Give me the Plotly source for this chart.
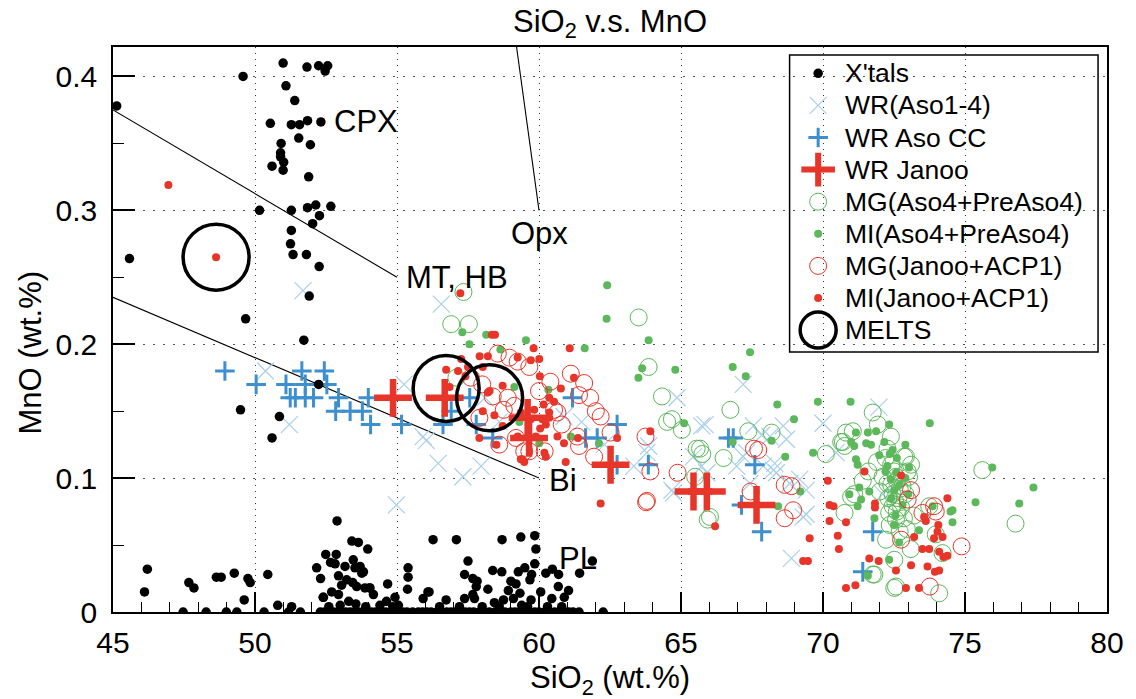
import plotly.graph_objects as go

# ---------------- data (SiO2 wt.%, MnO wt.%) ----------------
xtals_upper = [
    (45.13, 0.378), (45.58, 0.264), (49.58, 0.400), (50.99, 0.410), (51.83, 0.407),
    (52.24, 0.408), (52.56, 0.408), (52.47, 0.404), (51.09, 0.393), (51.40, 0.382),
    (50.54, 0.365), (51.28, 0.364), (51.57, 0.364), (51.85, 0.367), (52.32, 0.366),
    (51.54, 0.354), (50.92, 0.350), (51.95, 0.349), (50.90, 0.343), (50.90, 0.340),
    (51.01, 0.336), (50.60, 0.333), (50.99, 0.330), (51.89, 0.325), (50.16, 0.300),
    (51.28, 0.300), (51.85, 0.302), (52.14, 0.304), (52.67, 0.303), (52.27, 0.296),
    (52.03, 0.290), (51.28, 0.285), (51.25, 0.275), (51.34, 0.267), (51.81, 0.267),
    (52.26, 0.258), (51.91, 0.236), (49.67, 0.219), (51.72, 0.203), (52.24, 0.170),
    (49.49, 0.151), (50.86, 0.146), (50.60, 0.130),
]
xtals_lower = [
    (46.21, 0.032), (46.11, 0.015), (47.67, 0.022), (47.85, 0.018), (48.64, 0.026),
    (48.81, 0.026), (49.27, 0.029), (49.62, 0.009), (49.75, 0.025), (49.83, 0.022),
    (50.45, 0.028), (50.80, 0.005), (51.29, 0.004), (52.17, 0.033), (52.31, 0.025),
    (52.40, 0.011), (52.49, 0.043), (52.66, 0.037), (52.86, 0.043), (52.89, 0.068),
    (52.82, 0.036), (53.41, 0.053), (53.64, 0.052), (53.97, 0.047), (53.17, 0.034),
    (53.46, 0.039), (53.52, 0.033), (53.76, 0.029), (52.94, 0.027), (53.23, 0.024),
    (52.70, 0.015), (52.94, 0.013), (53.05, 0.020), (53.44, 0.022), (53.58, 0.019),
    (53.87, 0.018), (54.03, 0.018), (54.17, 0.013), (54.67, 0.021), (54.63, 0.008),
    (54.93, 0.011), (52.41, 0.011), (53.70, 0.034), (53.82, 0.030), (54.05, 0.018),
    (55.39, 0.033), (55.39, 0.026), (55.37, 0.017), (56.27, 0.054), (57.09, 0.054),
    (57.50, 0.038), (57.38, 0.028), (57.67, 0.025), (57.82, 0.023), (57.79, 0.019),
    (57.67, 0.013), (57.38, 0.010), (58.20, 0.017), (58.37, 0.031), (58.69, 0.030),
    (58.70, 0.054), (59.36, 0.056), (59.85, 0.057), (59.89, 0.047), (59.85, 0.036),
    (59.50, 0.033), (59.27, 0.030), (59.74, 0.028), (59.68, 0.024), (59.01, 0.023),
    (59.19, 0.021), (58.92, 0.016), (59.33, 0.014), (59.10, 0.010), (59.39, 0.005),
    (60.06, 0.015), (60.24, 0.029), (60.47, 0.032), (60.69, 0.028), (60.68, 0.019),
    (61.04, 0.016), (60.89, 0.011), (60.45, 0.010), (61.43, 0.029), (61.88, 0.038),
    (59.72, 0.009), (58.75, 0.009), (56.73, 0.009), (56.09, 0.015), (55.92, 0.010),
    (57.73, 0.010), (58.43, 0.007), (56.13, 0.015), (55.05, 0.005), (53.30, 0.008),
    (53.55, 0.006), (53.90, 0.004), (52.60, 0.004), (53.00, 0.005), (54.40, 0.005),
    (54.85, 0.004), (56.50, 0.004), (57.20, 0.004), (58.00, 0.004), (58.60, 0.004),
    (59.60, 0.004), (60.30, 0.004), (60.80, 0.004),
]
xtals_zero_sio2 = [
    47.47, 48.28, 48.99, 49.36, 50.32, 51.18, 51.60, 52.30, 52.45, 52.60, 52.75,
    52.90, 53.05, 53.20, 53.35, 53.50, 53.65, 53.80, 53.95, 54.10, 54.25, 54.45,
    54.60, 54.80, 55.00, 55.20, 55.35, 55.55, 55.75, 55.90, 56.05, 56.20, 56.40,
    56.55, 56.75, 56.90, 57.05, 57.20, 57.40, 57.55, 57.70, 57.90, 58.05, 58.25,
    58.45, 58.65, 58.80, 59.00, 59.15, 59.30, 59.50, 59.65, 59.85, 60.00, 60.20,
    60.35, 60.55, 60.70, 60.90, 61.05, 61.20, 61.41, 62.26,
]
xtals_zero_mno = [0.0] * len(xtals_zero_sio2)

wr_aso14 = [
    (51.69, 0.240), (50.37, 0.180), (51.21, 0.140), (55.25, 0.170), (56.56, 0.230),
    (56.03, 0.128), (54.98, 0.080), (55.92, 0.131), (56.45, 0.111), (57.32, 0.101),
    (57.96, 0.109), (60.88, 0.146), (63.34, 0.109), (63.80, 0.119), (64.74, 0.089),
    (65.73, 0.109), (65.73, 0.139), (67.19, 0.116), (68.25, 0.106), (64.86, 0.160),
    (67.19, 0.170), (65.85, 0.140), (63.86, 0.124), (64.68, 0.091), (65.44, 0.116),
    (65.91, 0.104), (66.96, 0.109), (67.31, 0.119), (67.55, 0.139), (68.13, 0.131),
    (68.60, 0.139), (68.71, 0.129), (68.30, 0.111), (68.36, 0.104), (69.18, 0.099),
    (69.41, 0.091), (69.30, 0.071), (70.00, 0.141), (67.43, 0.096), (67.90, 0.109),
    (67.84, 0.132), (68.83, 0.096), (69.41, 0.073), (68.89, 0.040), (70.46, 0.119),
    (71.97, 0.153), (58.60, 0.142), (61.50, 0.142), (62.30, 0.125), (58.10, 0.160),
    (72.10, 0.088), (72.60, 0.085),
]
wr_aso_cc = [
    (48.94, 0.180), (50.04, 0.170), (51.09, 0.170), (51.65, 0.180), (52.44, 0.180),
    (51.77, 0.170), (52.53, 0.170), (51.24, 0.160), (51.42, 0.160), (51.77, 0.160),
    (52.06, 0.160), (52.94, 0.160), (53.99, 0.160), (52.84, 0.150), (53.35, 0.150),
    (53.78, 0.150), (54.07, 0.140), (55.16, 0.140), (56.62, 0.140), (56.91, 0.150),
    (57.56, 0.160), (57.79, 0.140), (58.37, 0.130), (61.18, 0.160), (61.64, 0.130),
    (62.05, 0.130), (62.75, 0.140), (62.75, 0.110), (63.85, 0.110), (66.67, 0.130),
    (66.84, 0.130), (67.60, 0.110), (67.13, 0.080), (67.84, 0.060), (71.75, 0.060),
    (71.40, 0.030),
]
wr_janoo = [
    (54.86, 0.160), (56.68, 0.160), (59.60, 0.145), (59.65, 0.130), (62.52, 0.110),
    (65.44, 0.090), (65.91, 0.090), (67.66, 0.080),
]
mg_aso = [
    (57.34, 0.239), (56.91, 0.215), (57.53, 0.215), (63.51, 0.220), (63.86, 0.183),
    (64.33, 0.161), (57.09, 0.175), (64.68, 0.144), (65.03, 0.136), (65.55, 0.122),
    (65.67, 0.122), (65.50, 0.101), (66.74, 0.151), (67.37, 0.135), (68.19, 0.134),
    (65.94, 0.069), (70.10, 0.118), (64.51, 0.142), (66.02, 0.071), (70.70, 0.127),
    (71.05, 0.135), (71.75, 0.149), (71.93, 0.140), (72.39, 0.131), (72.86, 0.116),
    (72.98, 0.105), (70.99, 0.086), (70.76, 0.074), (71.75, 0.028), (72.51, 0.018),
    (74.09, 0.014), (75.61, 0.106), (76.78, 0.066), (70.81, 0.134), (70.64, 0.127),
    (70.76, 0.124), (72.27, 0.122), (72.92, 0.116), (72.10, 0.101), (72.27, 0.096),
    (72.57, 0.101), (72.80, 0.094), (73.03, 0.101), (71.10, 0.088), (72.45, 0.079),
    (72.33, 0.074), (72.57, 0.069), (72.22, 0.054), (73.09, 0.047), (72.51, 0.039),
    (71.81, 0.028), (72.57, 0.019), (73.97, 0.058), (73.74, 0.079), (74.21, 0.044),
    (72.40, 0.110), (72.50, 0.105), (72.60, 0.098), (72.70, 0.092), (72.45, 0.088),
    (72.65, 0.085), (72.55, 0.082), (72.75, 0.078), (72.40, 0.095), (72.90, 0.088),
    (72.30, 0.085), (72.60, 0.075), (72.85, 0.070), (72.95, 0.062), (72.70, 0.060),
    (72.35, 0.065), (73.20, 0.072), (73.10, 0.110), (72.20, 0.115), (71.90, 0.112),
    (71.60, 0.105), (71.40, 0.098), (72.00, 0.090), (66.50, 0.115), (65.75, 0.118),
]
mi_aso = [
    (62.40, 0.244), (62.38, 0.219), (63.86, 0.203), (63.63, 0.182), (64.80, 0.181),
    (67.43, 0.194), (66.82, 0.183), (67.28, 0.176), (58.14, 0.207), (59.54, 0.203),
    (61.61, 0.197), (58.64, 0.196), (59.13, 0.168), (60.33, 0.166), (60.01, 0.126),
    (61.12, 0.131), (62.11, 0.126), (59.31, 0.142), (68.39, 0.155), (69.82, 0.157),
    (68.98, 0.144), (65.11, 0.141), (66.82, 0.127), (68.19, 0.128), (68.67, 0.116),
    (69.65, 0.119), (69.20, 0.090), (68.42, 0.079), (70.97, 0.157), (73.76, 0.141),
    (75.37, 0.082), (75.96, 0.108), (76.91, 0.081), (77.41, 0.093), (74.56, 0.067),
    (74.49, 0.075), (73.38, 0.061), (72.33, 0.140), (71.58, 0.134), (71.87, 0.135),
    (71.52, 0.126), (71.69, 0.125), (72.16, 0.127), (71.16, 0.134), (70.99, 0.127),
    (71.10, 0.124), (71.16, 0.114), (71.22, 0.110), (71.98, 0.117), (72.45, 0.121),
    (72.27, 0.109), (72.57, 0.104), (73.03, 0.108), (71.28, 0.093), (71.63, 0.090),
    (70.93, 0.088), (71.34, 0.084), (71.22, 0.079), (72.39, 0.099), (72.51, 0.091),
    (71.81, 0.070), (72.68, 0.052), (72.33, 0.039), (71.58, 0.027), (73.86, 0.079),
    (74.56, 0.076), (72.60, 0.115), (72.70, 0.095), (72.40, 0.085), (72.80, 0.080),
    (72.55, 0.072), (72.90, 0.100), (72.20, 0.105), (72.35, 0.118), (72.90, 0.125),
    (73.00, 0.088), (72.50, 0.065), (57.30, 0.209), (57.55, 0.200), (63.50, 0.175),
]
mg_janoo = [
    (58.55, 0.193), (58.96, 0.190), (59.66, 0.183), (59.25, 0.187), (58.37, 0.161),
    (58.90, 0.160), (59.13, 0.154), (58.76, 0.151), (60.53, 0.151), (61.12, 0.178),
    (61.59, 0.171), (61.41, 0.162), (60.65, 0.149), (61.35, 0.131), (62.17, 0.146),
    (62.52, 0.134), (61.94, 0.116), (59.19, 0.130), (59.48, 0.120), (63.75, 0.131),
    (63.92, 0.105), (63.77, 0.082), (64.88, 0.104), (67.57, 0.122), (67.45, 0.090),
    (68.65, 0.095), (68.89, 0.094), (68.65, 0.070), (68.95, 0.076), (72.75, 0.054),
    (73.10, 0.091), (72.98, 0.084), (73.50, 0.074), (73.91, 0.079), (73.97, 0.075),
    (73.76, 0.019), (74.88, 0.049), (67.72, 0.121), (63.80, 0.083), (61.41, 0.124),
    (59.66, 0.120), (57.60, 0.175), (58.00, 0.170), (60.00, 0.165), (60.80, 0.140),
    (62.00, 0.150), (60.20, 0.120), (58.60, 0.125), (57.90, 0.145), (60.40, 0.172),
    (61.80, 0.160),
]
mi_janoo = [
    (46.95, 0.319), (48.63, 0.265), (57.23, 0.238), (58.45, 0.207), (58.34, 0.207),
    (61.08, 0.197), (59.81, 0.197), (57.91, 0.191), (58.20, 0.191), (57.26, 0.189),
    (59.25, 0.190), (59.71, 0.188), (60.01, 0.189), (58.02, 0.183), (57.50, 0.183),
    (56.73, 0.181), (57.15, 0.180), (60.03, 0.176), (57.41, 0.176), (58.72, 0.169),
    (58.26, 0.165), (56.85, 0.168), (60.36, 0.160), (60.16, 0.155), (60.36, 0.149),
    (60.53, 0.157), (60.77, 0.167), (61.23, 0.175), (58.20, 0.164), (58.02, 0.150),
    (58.43, 0.147), (58.72, 0.139), (59.36, 0.149), (59.83, 0.151), (59.71, 0.144),
    (60.12, 0.144), (60.04, 0.137), (59.89, 0.131), (59.25, 0.131), (60.24, 0.140),
    (60.36, 0.145), (60.65, 0.131), (60.19, 0.119), (59.36, 0.114), (59.48, 0.112),
    (60.94, 0.112), (60.88, 0.126), (61.37, 0.130), (62.75, 0.130), (59.42, 0.114),
    (60.24, 0.116), (62.17, 0.081), (66.20, 0.064), (63.92, 0.135), (70.17, 0.098),
    (70.23, 0.080), (70.37, 0.079), (70.23, 0.068), (70.81, 0.067), (70.52, 0.057),
    (70.56, 0.047), (69.53, 0.055), (69.30, 0.038), (69.47, 0.038), (70.81, 0.018),
    (71.14, 0.020), (71.46, 0.105), (71.83, 0.081), (71.83, 0.078), (71.63, 0.040),
    (71.96, 0.038), (72.57, 0.031), (72.92, 0.018), (72.75, 0.102), (73.10, 0.035),
    (73.38, 0.018), (73.21, 0.056), (73.50, 0.047), (73.56, 0.071), (73.62, 0.068),
    (73.91, 0.055), (73.74, 0.047), (73.68, 0.034), (73.94, 0.030), (74.09, 0.031),
    (74.03, 0.060), (74.06, 0.065), (74.09, 0.045), (74.21, 0.056), (74.24, 0.041),
    (74.38, 0.042), (74.38, 0.085), (57.90, 0.130), (58.50, 0.125),
]
melts = [(48.63, 0.265), (56.73, 0.167), (58.26, 0.160)]

# mineral trend lines (SiO2, MnO end points) and their labels
mt_hb_line = [(45.0, 0.375), (55.0, 0.250)]
bi_line = [(45.0, 0.235), (60.0, 0.100)]
opx_line = [(60.0, 0.300), (59.21, 0.422)]
mineral_labels = [("CPX", 52.72, 0.366, "left", "middle"),
                  ("MT, HB", 55.25, 0.250, "left", "middle"),
                  ("Opx", 60.0, 0.297, "center", "top"),
                  ("Bi", 60.27, 0.098, "left", "middle"),
                  ("PL", 60.62, 0.040, "left", "middle")]

x_ticks = [45, 50, 55, 60, 65, 70, 75, 80]
y_ticks = [0, 0.1, 0.2, 0.3, 0.4]
y_tick_text = ["0", "0.1", "0.2", "0.3", "0.4"]

# ---------------- styling ----------------
FONT = "Liberation Sans, Arial, Helvetica, sans-serif"
LIGHT_BLUE = "#a9d0ea"
BLUE = "#3d8fcd"
RED = "#e8352a"
GREEN = "#5cb85a"


def xs(points):
    return [p[0] for p in points]


def ys(points):
    return [p[1] for p in points]


series = [
    ("WR(Aso1-4)", wr_aso14, dict(symbol="x-thin", size=17, color=LIGHT_BLUE,
                                  line=dict(color=LIGHT_BLUE, width=1.2))),
    ("WR Aso CC", wr_aso_cc, dict(symbol="cross-thin", size=14, color=BLUE,
                                  line=dict(color=BLUE, width=3))),
    ("X'tals", xtals_upper + xtals_lower + list(zip(xtals_zero_sio2, xtals_zero_mno)),
     dict(symbol="circle", size=9.5, color="black")),
    ("MG(Aso4+PreAso4)", mg_aso, dict(symbol="circle-open", size=17, color=GREEN,
                                      line=dict(color=GREEN, width=1))),
    ("MI(Aso4+PreAso4)", mi_aso, dict(symbol="circle", size=8, color=GREEN)),
    ("MG(Janoo+ACP1)", mg_janoo, dict(symbol="circle-open", size=17, color=RED,
                                      line=dict(color=RED, width=1))),
    ("MI(Janoo+ACP1)", mi_janoo, dict(symbol="circle", size=8, color=RED)),
    ("WR Janoo", wr_janoo, dict(symbol="cross-thin", size=27, color=RED,
                                line=dict(color=RED, width=6.5))),
    ("MELTS", melts, dict(symbol="circle-open", size=66, color="black",
                          line=dict(color="black", width=3.5))),
]

fig = go.Figure()

for pts in (mt_hb_line, bi_line, opx_line):
    fig.add_trace(go.Scatter(x=xs(pts), y=ys(pts), mode="lines",
                             line=dict(color="black", width=1.1),
                             showlegend=False, hoverinfo="skip"))

for name, pts, marker in series:
    fig.add_trace(go.Scatter(x=xs(pts), y=ys(pts), mode="markers", name=name,
                             marker=marker, showlegend=False, cliponaxis=True))

for text, x, y, xanchor, yanchor in mineral_labels:
    fig.add_annotation(x=x, y=y, text=text, showarrow=False, xanchor=xanchor,
                       yanchor=yanchor, font=dict(size=31, color="black", family=FONT))

# ---------------- legend box drawn on a pixel-space overlay ----------------
legend_order = ["X'tals", "WR(Aso1-4)", "WR Aso CC", "WR Janoo", "MG(Aso4+PreAso4)",
                "MI(Aso4+PreAso4)", "MG(Janoo+ACP1)", "MI(Janoo+ACP1)", "MELTS"]
legend_markers = {name: marker for name, _, marker in series}
legend_top, legend_step = 73.3, 32.1
legend_sym_x, legend_text_x = 821.7, 847
for i, name in enumerate(legend_order):
    row_y = legend_top + i * legend_step
    m = dict(legend_markers[name])
    if name == "MELTS":
        m = dict(m, size=36, line=dict(color="black", width=3.5))
    elif name == "WR Janoo":
        m = dict(m, size=24, line=dict(color=RED, width=6))
    fig.add_trace(go.Scatter(x=[legend_sym_x], y=[row_y], mode="markers", marker=m,
                             xaxis="x2", yaxis="y2", showlegend=False, hoverinfo="skip"))
    fig.add_annotation(x=legend_text_x, y=row_y, xref="x2", yref="y2", text=name,
                       showarrow=False, xanchor="left", yanchor="middle",
                       font=dict(size=26.5, color="black", family=FONT))
fig.add_shape(type="rect", xref="x2", yref="y2", x0=793, x1=1103, y0=55, y1=352,
              line=dict(color="black", width=1.5), fillcolor="rgba(0,0,0,0)", layer="above")

# ---------------- axes, titles ----------------
axis_font = dict(size=30, color="black", family=FONT)
fig.update_layout(
    width=1136, height=699,
    margin=dict(l=113, r=24, t=47, b=87),
    paper_bgcolor="white", plot_bgcolor="white",
    font=dict(family=FONT, color="black"),
    showlegend=False,
    title=dict(text="SiO<sub>2</sub> v.s. MnO", x=0.5, xref="paper", xanchor="center",
               y=1 - 21 / 699, yref="container", yanchor="middle",
               font=dict(size=31, color="black", family=FONT)),
    xaxis=dict(range=[45, 80], tickvals=x_ticks, ticktext=[str(v) for v in x_ticks],
               ticks="inside", ticklen=20, tickwidth=1.5, tickcolor="black",
               minor=dict(dtick=1, ticks="inside", ticklen=10, tickwidth=1.2,
                          tickcolor="black", showgrid=False),
               showline=True, linecolor="black", linewidth=1.5, mirror=True,
               showgrid=True, gridcolor="#333333", gridwidth=1, griddash="1px,5px",
               zeroline=False, tickfont=axis_font, ticklabelstandoff=3),
    yaxis=dict(range=[0, 0.422], tickvals=y_ticks, ticktext=y_tick_text,
               ticks="inside", ticklen=22, tickwidth=1.5, tickcolor="black",
               minor=dict(dtick=0.05, ticks="inside", ticklen=11, tickwidth=1.2,
                          tickcolor="black", showgrid=False),
               showline=True, linecolor="black", linewidth=1.5, mirror=True,
               showgrid=True, gridcolor="#555555", gridwidth=1, griddash="1.5px,8.5px",
               zeroline=False, tickfont=axis_font, ticklabelstandoff=8),
    xaxis2=dict(overlaying="x", anchor="y2", range=[113, 1112], visible=False,
                fixedrange=True),
    yaxis2=dict(overlaying="y", anchor="x2", range=[612, 47], visible=False,
                fixedrange=True),
)

fig.add_annotation(xref="paper", yref="paper", x=0.5, y=-0.12, text="SiO<sub>2</sub> (wt.%)",
                   showarrow=False, xanchor="center", yanchor="middle",
                   font=dict(size=31, color="black", family=FONT))
fig.add_annotation(xref="paper", yref="paper", x=-0.083, y=0.46, text="MnO (wt.%)",
                   showarrow=False, textangle=-90, xanchor="center", yanchor="middle",
                   font=dict(size=31, color="black", family=FONT))

fig.write_html("out.html")
